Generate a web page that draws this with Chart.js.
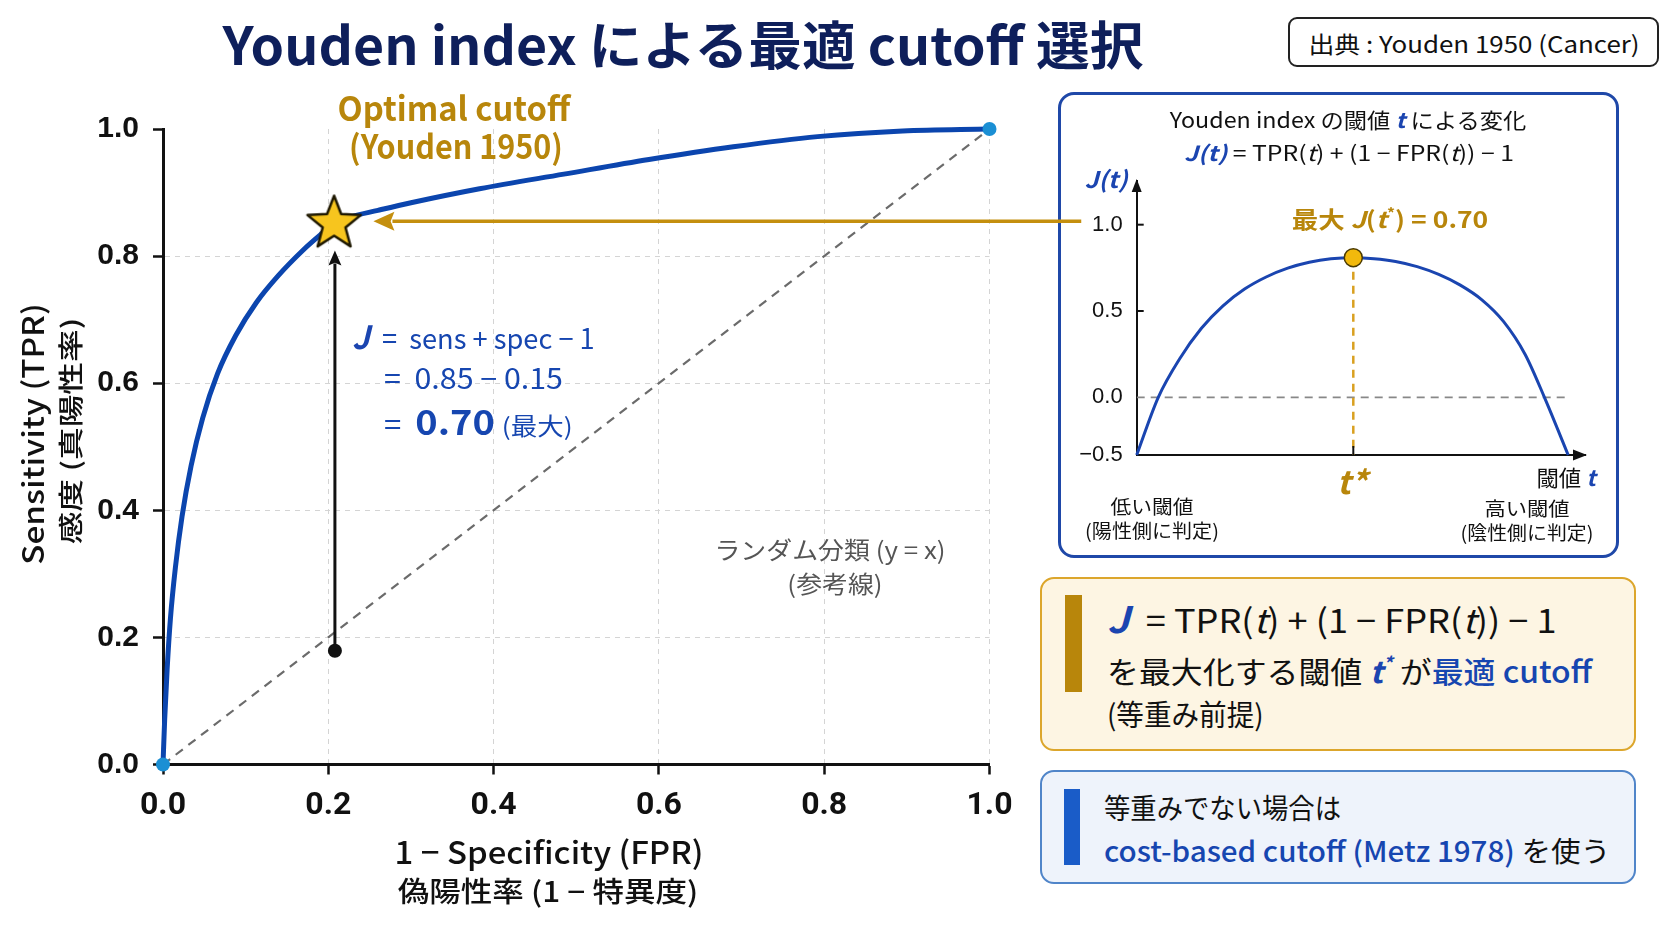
<!DOCTYPE html>
<html lang="ja">
<head>
<meta charset="utf-8">
<script src="https://cdn.jsdelivr.net/npm/chart.js@4.4.0/dist/chart.umd.min.js"></script>
<style>
  html,body{margin:0;padding:0;background:#fff;}
  body{width:1672px;height:941px;overflow:hidden;position:relative;font-family:'Noto Sans CJK JP','Noto Sans',sans-serif;color:#111;}
  .t{position:absolute;white-space:nowrap;line-height:1.15;z-index:10;}
  .bj{color:#1b45b0;font-weight:700;font-style:italic;}
  .bl{color:#1646b0;}
  .box{position:absolute;box-sizing:border-box;}
  #srcBox{left:1288px;top:17px;width:371px;height:50px;border:2px solid #222;border-radius:9px;background:#fff;}
  #insetBox{left:1058px;top:92px;width:561px;height:466px;border:3px solid #1f48a8;border-radius:16px;background:#fff;z-index:1;}
  #box2{left:1040px;top:577px;width:596px;height:174px;border:2.5px solid #dca62c;border-radius:14px;background:#fdf5e3;}
  #box3{left:1040px;top:770px;width:596px;height:114px;border:2px solid #5085c9;border-radius:14px;background:#eef3fb;}
  .bar{position:absolute;}
  #main{position:absolute;left:0;top:0;z-index:5;}
  #inset{position:absolute;left:1058px;top:92px;z-index:2;}
  sup{font-size:0.6em;vertical-align:0.7em;line-height:0;}
</style>
</head>
<body>
<div class="box" id="srcBox"></div>
<div class="box" id="insetBox"></div>
<div class="box" id="box2"></div>
<div class="box" id="box3"></div>
<div class="bar" style="left:1065px;top:595px;width:17px;height:97px;background:#b8860b;"></div>
<div class="bar" style="left:1064px;top:789px;width:16px;height:76px;background:#1a5cc8;"></div>

<canvas id="inset" width="561" height="466"></canvas>
<canvas id="main" width="1100" height="941"></canvas>

<!-- titles -->
<div class="t" data-x="683" data-y="43" data-w="921" style="font-size:52px;font-weight:700;color:#0e1f5b">Youden index による最適 cutoff 選択</div>
<div class="t" data-x="1474" data-y="43" data-w="331" style="font-size:23px;">出典 : Youden 1950 (Cancer)</div>

<!-- main chart annotations -->
<div class="t" data-x="454" data-y="108" data-w="233" style="font-size:33px;font-weight:700;color:#b8860b">Optimal cutoff</div>
<div class="t" data-x="456" data-y="146" data-w="214" style="font-size:33px;font-weight:700;color:#b8860b">(Youden 1950)</div>
<div class="t" data-a="l" data-x="352" data-y="336" data-w="243" style="font-size:28px;color:#1646b0"><span class="bj" style="font-size:1.15em">J</span>&nbsp; = &nbsp;sens + spec − 1</div>
<div class="t" data-a="l" data-x="384" data-y="377" data-w="179" style="font-size:28px;color:#1646b0">= &nbsp;0.85 − 0.15</div>
<div class="t" data-a="l" data-x="384" data-y="421" data-w="189" style="font-size:28px;color:#1646b0">= &nbsp;<b style="font-size:1.22em">0.70</b> <span style="font-size:0.85em">(最大)</span></div>
<div class="t" data-x="830" data-y="549" data-w="231" style="font-size:24px;color:#555">ランダム分類 (y = x)</div>
<div class="t" data-x="835" data-y="583" data-w="95" style="font-size:24px;color:#555">(参考線)</div>

<!-- axis titles -->
<div class="t" data-r="1" data-x="32" data-y="434" data-w="261" style="font-size:29px;font-weight:500">Sensitivity (TPR)</div>
<div class="t" data-r="1" data-x="69" data-y="431" data-w="226" style="font-size:25px;font-weight:500">感度 (真陽性率)</div>
<div class="t" data-x="549" data-y="851" data-w="309" style="font-size:31px;font-weight:500">1 − Specificity (FPR)</div>
<div class="t" data-x="548" data-y="890" data-w="301" style="font-size:28px;font-weight:500">偽陽性率 (1 − 特異度)</div>

<!-- inset texts -->
<div class="t" data-x="1348" data-y="119" data-w="357" style="font-size:21px;">Youden index の閾値 <span class="bj">t</span> による変化</div>
<div class="t" data-x="1349" data-y="152" data-w="330" style="font-size:21px;"><span class="bj">J(t)</span> = TPR(<i>t</i>) + (1 − FPR(<i>t</i>)) − 1</div>
<div class="t" data-x="1106" data-y="178" data-w="43" style="font-size:23px;"><span class="bj">J(t)</span></div>
<div class="t" data-x="1390" data-y="218" data-w="197" style="font-size:23px;font-weight:700;color:#b8860b">最大 <i>J</i>(<i>t</i><sup>*</sup>) = 0.70</div>
<div class="t" data-x="1352" data-y="480" data-w="31" style="font-size:32px;font-weight:700;font-style:italic;color:#b8860b">t*</div>
<div class="t" data-x="1566" data-y="477" data-w="59" style="font-size:22px;">閾値 <span class="bj">t</span></div>
<div class="t" data-x="1152" data-y="506" data-w="83" style="font-size:19px;">低い閾値</div>
<div class="t" data-x="1152" data-y="530" data-w="134" style="font-size:19px;">(陽性側に判定)</div>
<div class="t" data-x="1527" data-y="508" data-w="85" style="font-size:19px;">高い閾値</div>
<div class="t" data-x="1527" data-y="532" data-w="133" style="font-size:19px;">(陰性側に判定)</div>

<!-- box 2 -->
<div class="t" data-a="l" data-x="1107" data-y="618" data-w="450" style="font-size:33px;"><span class="bj" style="font-size:1.1em">J</span>&nbsp; = TPR(<i>t</i>) + (1 − FPR(<i>t</i>)) − 1</div>
<div class="t" data-a="l" data-x="1107" data-y="670" data-w="485" style="font-size:30px;">を最大化する閾値 <span class="bj">t<sup>*</sup></span> が<span class="bl" style="font-weight:500">最適 cutoff</span></div>
<div class="t" data-a="l" data-x="1107" data-y="714" data-w="157" style="font-size:29px;">(等重み前提)</div>

<!-- box 3 -->
<div class="t" data-a="l" data-x="1104" data-y="807" data-w="237" style="font-size:28px;">等重みでない場合は</div>
<div class="t" data-a="l" data-x="1104" data-y="850" data-w="506" style="font-size:28px;"><span class="bl" style="font-weight:500">cost-based cutoff (Metz 1978)</span> を使う</div>

<script>
// ===== Data =====
// ROC curve: false positive rate (1 - specificity) vs true positive rate (sensitivity)
const rocFPR = [0, 0.002, 0.005, 0.009, 0.015, 0.023, 0.034, 0.048, 0.066, 0.088, 0.113, 0.14, 0.17, 0.19, 0.207, 0.225, 0.26, 0.3, 0.383, 0.485, 0.588, 0.69, 0.792, 0.895, 1.0];
const rocTPR = [0, 0.07, 0.15, 0.23, 0.31, 0.39, 0.47, 0.545, 0.615, 0.675, 0.727, 0.77, 0.81, 0.833, 0.851, 0.861, 0.872, 0.884, 0.906, 0.929, 0.952, 0.972, 0.988, 0.997, 1.0];
// random classifier reference line (y = x)
const randomFPR = [0, 1];
const randomTPR = [0, 1];
// ROC end points
const endpointFPR = [0, 1];
const endpointTPR = [0, 1];
// optimal cutoff (star) and J segment
const optimalFPR = [0.207];
const optimalTPR = [0.851];
const jSegmentFPR = 0.208;
const jSegmentFromTPR = 0.179;
const jSegmentToTPR = 0.809;
// link arrow from the inset to the optimal point
const linkArrowTPR = 0.855;
const linkArrowFromFPR = 1.111;
const linkArrowToFPR = 0.2546;
// axis ticks
const xTickValues = [0, 0.2, 0.4, 0.6, 0.8, 1.0];
const yTickValues = [0, 0.2, 0.4, 0.6, 0.8, 1.0];

// Inset: Youden index J(t) over threshold t
const thresholdT = [0, 0.05, 0.10, 0.15, 0.20, 0.25, 0.30, 0.35, 0.40, 0.45, 0.502, 0.55, 0.60, 0.65, 0.70, 0.75, 0.80, 0.85, 0.90, 0.945, 1.0];
const youdenJ    = [-0.334, 0, 0.225, 0.40, 0.53, 0.627, 0.697, 0.748, 0.782, 0.802, 0.809, 0.803, 0.787, 0.757, 0.712, 0.65, 0.565, 0.44, 0.25, 0, -0.334];
const peakT = [0.502];
const peakJ = [0.809];
const zeroLineT = [0, 0.996];
const zeroLineJ = [0, 0];
const insetYTickValues = [-0.334, 0, 0.5, 1.0];
const insetYTickLabels = ['−0.5', '0.0', '0.5', '1.0'];
const insetMarkTicks = [0.5, 1.0];

// ===== helpers =====
function pts(xs, ys) { return xs.map((x, i) => ({x: x, y: ys[i]})); }

function arrow(ctx, x1, y1, x2, y2, color, width, headLen, headHalf) {
  const a = Math.atan2(y2 - y1, x2 - x1);
  const bx = x2 - headLen * Math.cos(a), by = y2 - headLen * Math.sin(a);
  ctx.save();
  ctx.strokeStyle = color; ctx.lineWidth = width; ctx.setLineDash([]);
  ctx.beginPath(); ctx.moveTo(x1, y1); ctx.lineTo(bx + Math.cos(a) * 2, by + Math.sin(a) * 2); ctx.stroke();
  ctx.fillStyle = color;
  ctx.beginPath();
  ctx.moveTo(x2, y2);
  ctx.lineTo(bx - headHalf * Math.sin(a), by + headHalf * Math.cos(a));
  ctx.lineTo(bx + headLen * 0.18 * Math.cos(a), by + headLen * 0.18 * Math.sin(a));
  ctx.lineTo(bx + headHalf * Math.sin(a), by - headHalf * Math.cos(a));
  ctx.closePath(); ctx.fill();
  ctx.restore();
}

function makeStar(R, r, fill, stroke, lw) {
  const size = Math.ceil(2 * R + lw * 2 + 4);
  const c = document.createElement('canvas');
  c.width = size; c.height = size;
  const g = c.getContext('2d');
  const cx = size / 2, cy = size / 2;
  g.beginPath();
  for (let i = 0; i < 10; i++) {
    const rad = (i % 2) ? r : R;
    const ang = -Math.PI / 2 + i * Math.PI / 5;
    g.lineTo(cx + rad * Math.cos(ang), cy + rad * Math.sin(ang));
  }
  g.closePath();
  g.fillStyle = fill; g.fill();
  g.lineWidth = lw; g.lineJoin = 'round'; g.strokeStyle = stroke; g.stroke();
  return c;
}
const starImg = makeStar(28, 12, '#f7c51e', '#1e1800', 2.5);

Chart.defaults.font.family = "'Noto Sans CJK JP', sans-serif";

// ===== main ROC chart =====
const mainPlugin = {
  id: 'mainArrows',
  afterDatasetsDraw(chart) {
    const ctx = chart.ctx, xs = chart.scales.x, ys = chart.scales.y;
    const jx = xs.getPixelForValue(jSegmentFPR);
    arrow(ctx, jx, ys.getPixelForValue(jSegmentFromTPR), jx, ys.getPixelForValue(jSegmentToTPR), '#111', 3, 15, 6.5);
    const ly = ys.getPixelForValue(linkArrowTPR);
    arrow(ctx, xs.getPixelForValue(linkArrowFromFPR), ly, xs.getPixelForValue(linkArrowToFPR), ly, '#c48f0e', 3.5, 21, 9.5);
  }
};

new Chart(document.getElementById('main'), {
  type: 'line',
  data: {
    datasets: [
      { label: 'optimal', data: pts(optimalFPR, optimalTPR), showLine: false, pointStyle: starImg, pointRadius: 12, clip: false },
      { label: 'jpoint', data: pts([jSegmentFPR], [jSegmentFromTPR]), showLine: false, pointRadius: 7, pointBackgroundColor: '#111', pointBorderWidth: 0, clip: false },
      { label: 'ends', data: pts(endpointFPR, endpointTPR), showLine: false, pointRadius: 7, pointBackgroundColor: '#1b8fd4', pointBorderWidth: 0, clip: false },
      { label: 'ROC', data: pts(rocFPR, rocTPR), borderColor: '#0b45ae', borderWidth: 5, pointRadius: 0, cubicInterpolationMode: 'monotone', clip: false, borderCapStyle: 'round' },
      { label: 'random', data: pts(randomFPR, randomTPR), borderColor: '#6b6b6b', borderWidth: 2.2, borderDash: [9, 7], pointRadius: 0, clip: false }
    ]
  },
  options: {
    responsive: false, animation: false, devicePixelRatio: 1, events: [],
    layout: { padding: { top: 129, right: 110.5, left: 0, bottom: 0 } },
    plugins: { legend: { display: false }, tooltip: { enabled: false } },
    scales: {
      x: {
        type: 'linear', min: 0, max: 1,
        afterBuildTicks: s => { s.ticks = xTickValues.map(v => ({ value: v })); },
        afterFit: s => { s.height = 176.5; },
        ticks: { callback: v => v.toFixed(1), autoSkip: false, maxRotation: 0, padding: 12, color: '#111',
                 font: { family: "'Liberation Sans Narrow','Roboto',sans-serif", weight: 'bold', size: 32 } },
        grid: { color: c => (c.tick && c.tick.value === 0) ? 'rgba(0,0,0,0)' : '#d4d4d4', lineWidth: 1,
                tickColor: '#111', tickWidth: 2.5, tickLength: 10, tickBorderDash: [] },
        border: { display: true, color: '#111', width: 3, dash: [5, 5] }
      },
      y: {
        type: 'linear', min: 0, max: 1,
        afterBuildTicks: s => { s.ticks = yTickValues.map(v => ({ value: v })); },
        afterFit: s => { s.width = 163; },
        ticks: { callback: v => v.toFixed(1), autoSkip: false, padding: 14, color: '#111',
                 font: { family: "'Liberation Sans',Arial,sans-serif", weight: 'bold', size: 30 } },
        grid: { color: c => (c.tick && (c.tick.value === 0 || c.tick.value === 1)) ? 'rgba(0,0,0,0)' : '#d4d4d4', lineWidth: 1,
                tickColor: '#111', tickWidth: 2.5, tickLength: 10, tickBorderDash: [] },
        border: { display: true, color: '#111', width: 3, dash: [5, 5] }
      }
    }
  },
  plugins: [mainPlugin]
});

// ===== inset J(t) chart =====
const insetPlugin = {
  id: 'insetDeco',
  afterDraw(chart) {
    const ctx = chart.ctx, a = chart.chartArea, xs = chart.scales.x, ys = chart.scales.y;
    ctx.save();
    ctx.fillStyle = '#111'; ctx.strokeStyle = '#111'; ctx.lineWidth = 2;
    ctx.beginPath(); ctx.moveTo(a.left, a.top - 2); ctx.lineTo(a.left - 5, a.top + 11); ctx.lineTo(a.left + 5, a.top + 11); ctx.closePath(); ctx.fill();
    ctx.beginPath(); ctx.moveTo(a.right + 2, a.bottom); ctx.lineTo(a.right - 12, a.bottom - 5.5); ctx.lineTo(a.right - 12, a.bottom + 5.5); ctx.closePath(); ctx.fill();
    insetMarkTicks.forEach(v => { const y = ys.getPixelForValue(v); ctx.beginPath(); ctx.moveTo(a.left, y); ctx.lineTo(a.left + 7, y); ctx.stroke(); });
    const tx = xs.getPixelForValue(peakT[0]);
    ctx.beginPath(); ctx.moveTo(tx, a.bottom); ctx.lineTo(tx, a.bottom - 9); ctx.stroke();
    ctx.restore();
  }
};

new Chart(document.getElementById('inset'), {
  type: 'line',
  data: {
    datasets: [
      { label: 'peak', data: pts(peakT, peakJ), showLine: false, pointRadius: 9, pointBackgroundColor: '#f2b90c', pointBorderColor: '#4a3a00', pointBorderWidth: 1.5, clip: false },
      { label: 'J', data: pts(thresholdT, youdenJ), borderColor: '#1a45b0', borderWidth: 3, pointRadius: 0, cubicInterpolationMode: 'monotone', clip: false },
      { label: 'tstar', data: pts([peakT[0], peakT[0]], [peakJ[0], insetYTickValues[0]]), borderColor: '#d9a020', borderWidth: 2.5, borderDash: [8, 6], pointRadius: 0 },
      { label: 'zero', data: pts(zeroLineT, zeroLineJ), borderColor: '#888', borderWidth: 1.6, borderDash: [8, 6], pointRadius: 0 }
    ]
  },
  options: {
    responsive: false, animation: false, devicePixelRatio: 1, events: [],
    layout: { padding: { top: 89, right: 34, left: 0, bottom: 0 } },
    plugins: { legend: { display: false }, tooltip: { enabled: false } },
    scales: {
      x: {
        type: 'linear', min: 0, max: 1.039,
        afterFit: s => { s.height = 103; },
        ticks: { display: false },
        grid: { display: false },
        border: { display: true, color: '#111', width: 2 }
      },
      y: {
        type: 'linear', min: -0.334, max: 1.253,
        afterBuildTicks: s => { s.ticks = insetYTickValues.map(v => ({ value: v })); },
        afterFit: s => { s.width = 78.7; },
        ticks: { callback: (v, i) => insetYTickLabels[i], autoSkip: false, padding: 14, color: '#111',
                 font: { family: "'Liberation Sans',Arial,sans-serif", size: 22 } },
        grid: { display: false, drawTicks: false },
        border: { display: true, color: '#111', width: 2 }
      }
    }
  },
  plugins: [insetPlugin]
});

// ===== place and fit texts =====
function fitTexts() {
  document.querySelectorAll('.t').forEach(el => {
    const x = +el.dataset.x, y = +el.dataset.y, w = +el.dataset.w, al = el.dataset.a || 'c';
    el.style.left = x + 'px'; el.style.top = y + 'px';
    const s = w / el.offsetWidth;
    if (el.dataset.r) { el.style.transformOrigin = 'center center'; el.style.transform = 'translate(-50%,-50%) rotate(-90deg) scaleX(' + s + ')'; }
    else if (al === 'l') { el.style.transformOrigin = 'left center'; el.style.transform = 'translate(0,-50%) scaleX(' + s + ')'; }
    else { el.style.transformOrigin = 'center center'; el.style.transform = 'translate(-50%,-50%) scaleX(' + s + ')'; }
  });
}
fitTexts();
if (document.fonts && document.fonts.ready) document.fonts.ready.then(fitTexts);
</script>
</body>
</html>
